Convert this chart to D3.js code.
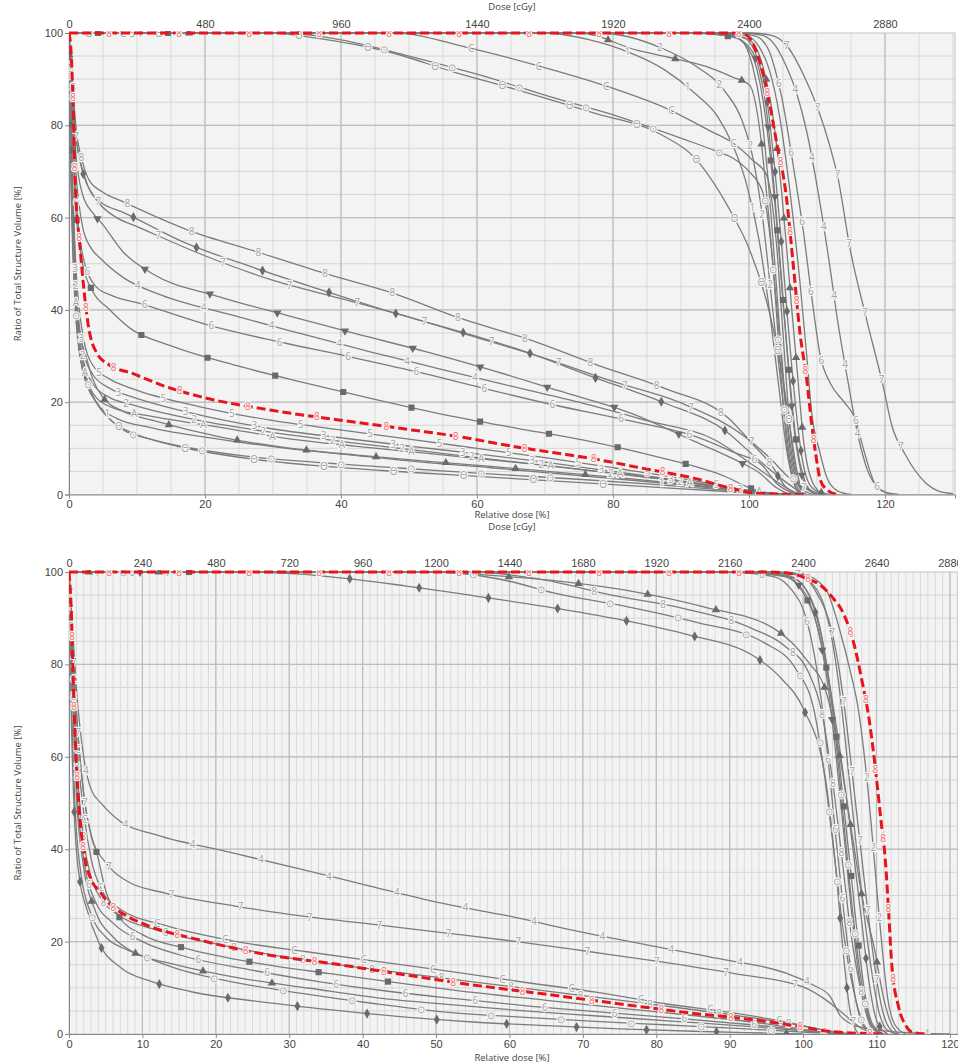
<!DOCTYPE html>
<html>
<head>
<meta charset="utf-8" />
<title>DVH comparison</title>
<style>
body { margin: 0; background: #fff; }
svg { display: block; font-family: "Open Sans", "Noto Sans", sans-serif; }
.axis text { fill: #444; font-size: 11px; }
.axis path, .axis line { stroke: #888; }
.ttl { fill: #444; font-size: 9.5px; }
</style>
</head>
<body>
<script src="https://cdn.jsdelivr.net/npm/d3@7"></script>
<script>
// tick labels
var volTicks = [0, 20, 40, 60, 80, 100];
var topRelTicks = [0, 20, 40, 60, 80, 100, 120];
var topDoseTicks = [0, 480, 960, 1440, 1920, 2400, 2880];
var botRelTicks = [0, 10, 20, 30, 40, 50, 60, 70, 80, 90, 100, 110, 120];
var botDoseTicks = [0, 240, 480, 720, 960, 1200, 1440, 1680, 1920, 2160, 2400, 2640, 2880];
var prescribed = 2400; // cGy at 100 %

//=====================
// top panel curves  [relative dose %, volume %]
//=====================
var tRedHigh = [[0,100],[50,100],[97,100],[99.5,99.6],[101,96.3],[102,91.6],[103,85],[104,76.8],[105.5,64.5],[106.5,50],[107.5,35],[108.5,24.8],[109.2,15.5],[110,7],[110.5,3.1],[111.5,1],[113,0]];
var tRedLow = [[0,100],[0.3,96],[0.6,85],[0.9,68],[1.6,54],[2.8,37],[4.1,30.6],[6,28],[9.2,26.3],[14,23.5],[19.3,21.2],[29.6,18.3],[39.9,16.1],[50.4,14],[57.5,12.5],[65,10.5],[78,7.5],[85,5.5],[92,3.5],[97,1.5],[101,0.3],[108,0]];

var tH1 = [[0,100],[30,100],[36.4,98.9],[46.5,96.1],[56.5,91.6],[66.8,87.3],[76.9,82.8],[87.2,77.9],[92,73],[95,67.1],[97.8,60],[99.9,53.7],[103.1,38.9],[105,25],[106.3,12],[107.2,4],[108,0]];
var tH2 = [[0,100],[32,100],[40,98.5],[50,95],[60.4,90.9],[70.7,86.2],[80.8,81.9],[90.8,76.8],[95,74.5],[97.6,72.9],[100,70],[102,65.6],[103.5,50],[104.5,30],[105.5,12],[106.5,3],[107.5,0]];
var tH3 = [[0,100],[48,100],[58.2,97],[68.5,93.1],[78.6,88.7],[88.4,83.3],[94,79],[97.6,76.2],[100.5,72.5],[102.6,69.2],[104,55],[105,35],[106,15],[107,4],[108,0]];
var tH4 = [[0,100],[70,100],[76.6,98.5],[82,96],[87.6,92],[92,87],[95.4,81.9],[97.5,76.1],[99.5,68],[101.5,55],[103,40],[104.5,22],[105.5,10],[106.5,3],[107.5,0]];
var tH5 = [[0,100],[78,100],[87.2,96.7],[92,93],[96.5,87.3],[99,81],[100.6,72.8],[102,60],[103.5,40],[105,20],[106,8],[107,2],[108,0]];
var tH6 = [[0,100],[75,100],[83.5,96.3],[88,94.8],[93.8,92.7],[97.5,90.5],[100.1,88.7],[101.5,80],[102.8,62],[104,42],[105,25],[106,10],[107,3],[108.5,0]];
var tC1 = [[0,100],[90,100],[97,99.5],[100,97],[101.5,92],[102.5,84],[103.5,70],[104.5,52],[105.5,33],[106.5,16],[107.5,6],[108.5,1.5],[110,0]];
var tC2 = [[0,100],[92,100],[98,99],[100.5,95],[102,86],[103,75],[104,60],[105,42],[106,25],[107,11],[108,4],[109,1],[111,0]];
var tC3 = [[0,100],[94,100],[99,99.2],[101,95.5],[102.5,87],[103.7,72],[104.8,54],[105.8,36],[106.8,20],[107.8,8],[109,2],[111,0]];
var tC4 = [[0,100],[93,100],[98.5,98.8],[100.5,93],[101.7,84],[102.7,70],[103.8,50],[104.8,30],[105.8,14],[106.8,5],[108,1],[109.5,0]];
var tC5 = [[0,100],[95,100],[100,98.5],[102,93],[103.3,84],[104.5,70],[105.5,54],[106.3,40],[107.2,25],[108,12],[109,4],[110.5,0.5],[112,0]];
var tC6 = [[0,100],[98,100],[101,99.3],[103,96],[103.8,92.3],[104.8,86.2],[106.5,71.4],[108,57],[109.3,42],[110.5,30],[112,24],[114,20],[115.6,16.5],[117,9],[118.5,2.4],[120,0.5],[122,0]];
var tC7 = [[0,100],[99,100],[102,99.5],[104,97],[105.3,93.4],[107,87],[108.5,78.6],[110,67],[111.8,50.4],[113,38],[114.5,25],[116,13],[117.5,5],[119,1.5],[121,0]];
var tC8 = [[0,100],[100,100],[103,99.6],[105.5,97.4],[108,91],[110.2,83.3],[111.8,76],[113.1,68.5],[114.9,53],[117.2,38.5],[119.7,23.7],[121,15],[123,8.6],[126,2.5],[128,0.7],[130,0.2]];
var tC9 = [[0,100],[96,100],[99.5,99.5],[101.5,97],[103,92],[104.5,82],[106,66],[107.5,46],[108.5,30],[109.2,18],[110.4,9.3],[111.5,3.5],[113,0.8],[115,0]];

var tL8 = [[0,100],[0.4,92],[1,80],[2,72],[3,68],[5,65.5],[8,63.4],[17.5,57.3],[27.6,52.6],[37.6,47.9],[47.7,43.6],[57.5,38.2],[67.8,33.5],[77.8,28],[87.6,23],[97,16.5],[100.5,11],[103.5,6],[105.5,1.5],[108,0]];
var tLdia = [[0,100],[0.4,90],[1,78],[2,70],[3.5,65],[5,63],[7.7,61.3],[17.3,54.4],[27.1,49.2],[37.2,44.3],[47.2,39.6],[57.5,35.3],[67,31],[77,25.5],[87.1,20.1],[96.7,13.6],[101,8],[104.6,3.6],[108,0]];
var tL7 = [[0,100],[0.4,90],[1,78],[2.5,68],[4.5,63],[7,60],[10.1,58],[19.7,51.9],[29.8,46.5],[39.9,42.5],[49.9,38.5],[60,34],[70,29.5],[80,24.5],[90.1,19.8],[99.4,12.5],[103,8],[106,3.5],[110,0]];
var tLdown = [[0,100],[0.4,88],[1,74],[2,65],[3.5,61],[4.8,58.8],[8,52.5],[12.2,47.9],[22,42.9],[32.3,38.7],[42.3,34.8],[52.6,30.9],[62,27],[72,22.5],[82.7,17.6],[92,11.5],[98,7.5],[101.6,4.6],[104,1.5],[106,0]];
var tL4 = [[0,100],[0.4,85],[1,70],[2,58],[3.2,53.5],[4.6,51.2],[8,47],[13.6,43.2],[23.9,38.9],[34,34.9],[44.3,30.9],[54.3,27.3],[65,23.5],[75,20],[85,16],[95,11.8],[100,7],[103.8,3.1],[107,0]];
var tL6 = [[0,100],[0.4,82],[1,65],[2,52],[4,45],[6.5,43],[10.4,41.4],[20.5,36.7],[30.8,33.1],[41.1,29.9],[51.1,26.6],[61,23],[71,19.5],[82,16.1],[92.3,12.5],[98,9],[101.9,6.4],[104,2.5],[107,0]];
var tLsq = [[0,100],[0.4,80],[1,62],[2,50],[3.5,44],[5.8,40.3],[9,36],[14.6,32.4],[24.7,27.9],[35,24.1],[45.3,20.5],[55.5,17.2],[65.7,14.4],[75.7,11.8],[86.4,8.2],[96.5,3.9],[100,1.5],[103,0]];
var tL5 = [[0,100],[0.4,75],[1,50],[2,35],[3.5,28],[6,25],[9.2,23],[19.3,19],[29.6,16.1],[39.9,14],[50,12],[60,10],[70,8],[80,5.8],[90,3.5],[97,1.6],[102,0.4],[106,0]];
var tL3 = [[0,100],[0.4,72],[1,46],[2,32],[3.5,26],[6,23],[9.2,21.2],[19.3,17.2],[29.6,14.3],[39.9,12.3],[50,10.5],[60,8.8],[70,7],[80,5],[90,3],[98,1.2],[104,0.2],[108,0]];
var tL2 = [[0,100],[0.4,70],[1,44],[2,30],[3.5,24],[6,21],[9.2,19.5],[19.3,16],[29.6,13.5],[39.9,11.5],[50,9.8],[60,8],[70,6.3],[80,4.6],[90,2.8],[98,1],[104,0.2],[108,0]];
var tLA = [[0,100],[0.4,68],[1,42],[2,29],[4,21],[7,18.5],[12,17],[22.5,14.5],[32.7,12],[42,10.5],[52,9],[62,7.5],[72,6],[82,4.3],[92,2.5],[100,0.8],[106,0]];
var tLtri = [[0,100],[0.3,75],[0.8,50],[1.5,36],[2.5,30],[3.5,25],[5,21],[8,18],[12.2,16.1],[22.5,12.4],[32.7,10],[42,8.6],[52,7.3],[62,6.1],[72,4.8],[82,3.5],[92,2],[100,0.6],[105,0]];
var tL1 = [[0,100],[0.4,65],[1,40],[2,27],[4,20],[7,16.5],[12,14.5],[22,12],[32,10],[42,8.5],[52,7],[62,5.8],[72,4.5],[82,3.2],[92,1.8],[100,0.5],[105,0]];
var tLth = [[0,100],[0.3,70],[0.8,45],[1.5,32],[2.5,25],[4,20],[6.3,15.9],[10,13],[16.1,10.4],[26.4,7.8],[36,6.3],[46,5.2],[56,4.3],[66,3.4],[76,2.5],[86,1.6],[96,0.7],[103,0]];
var tLci = [[0,100],[0.3,68],[0.8,44],[1.5,31],[3,23],[5,18],[8,14],[12,12],[16.7,10.4],[26,8.3],[36,7],[46,6],[56,5],[66,4.1],[76,3.2],[86,2.2],[96,1],[103,0]];

//=====================
// bottom panel curves
//=====================
var bRedHigh = [[0,100],[60,100],[95,100],[98.2,99.7],[100.5,98.6],[102.3,97.2],[104,94.5],[105.5,91],[107,84],[108,76.6],[109,68],[109.6,60.8],[110.7,44.9],[111.2,37.7],[111.7,25],[112.1,14.6],[113,5.9],[114,1.8],[115,0.3],[116.6,0]];
var bRedLow = [[0,100],[0.3,92],[0.6,75],[0.9,62],[1.3,50.6],[2.2,37.7],[3,33.5],[4.2,30.8],[5.5,28.2],[7.6,25.8],[11,23.3],[16.9,20.7],[26.5,17.3],[36,15.2],[45.8,12.8],[53.3,11],[64,8.8],[74.6,6.6],[84.4,4.6],[94.1,2.9],[100,1.5],[103.9,0.5],[111.4,0]];

var bHtri = [[0,100],[50,100],[58,99.2],[67.3,97.9],[77.1,95.7],[86.6,92.4],[96,87.8],[100.5,80.9],[103.2,73.7],[105,60],[106.5,45],[108,30],[109.8,17.8],[110.8,9],[111.8,3],[113,0]];
var bH8 = [[0,100],[55,100],[64,98.5],[73.9,95],[83.5,92.2],[93,87.8],[97.5,84],[100.7,78.4],[102.5,70],[104,55],[105.3,38],[106.5,22],[107.8,10],[109,3],[110.5,0]];
var bHci = [[0,100],[50,100],[60,98],[66,95.5],[76,92.5],[85.5,89.1],[94.8,84.6],[99,79],[101.5,70],[103,55],[104.3,38],[105.5,22],[106.8,10],[108,3],[109.5,0]];
var bHdia = [[0,100],[25,100],[31,99.6],[45.8,97],[55.4,94.8],[65,92.5],[74.8,89.8],[84.4,86.4],[93.6,81.5],[97,77],[100,70.5],[103,55.7],[104.5,35],[105.5,17],[106.3,6],[107.5,0]];
var bC1 = [[0,100],[88,100],[97,99.3],[99.5,97],[101,93],[102.5,84],[103.5,74],[104.5,60],[105.5,44],[106.5,28],[107.5,14],[108.5,5],[109.5,1],[111,0]];
var bC2 = [[0,100],[90,100],[97.5,99],[100,95.5],[101.8,89],[103.2,79],[104.5,65],[105.5,50],[106.5,35],[107.5,20],[108.5,8],[109.5,2],[111,0]];
var bC3 = [[0,100],[92,100],[98.5,98.8],[100.8,95],[102.5,86],[104,72],[105.5,56],[106.8,40],[108,24],[109,11],[110,3],[111.5,0]];
var bC4 = [[0,100],[95,100],[99.5,99.3],[102,95],[103.7,88.5],[105,78],[106,66],[107,52],[108,38],[109,24],[110,12],[111,4],[112.5,0]];
var bC5 = [[0,100],[96,100],[100,99.5],[103,96.5],[105.3,85.6],[106.5,78],[107.5,70.5],[108.5,58],[109.3,45],[110,32],[110.8,18],[111.5,8],[112.5,2],[114,0]];
var bC6 = [[0,100],[90,100],[96,99],[98.5,96],[100,92],[101.3,84],[102.5,72],[103.5,58],[104.5,42],[105.5,27],[106.5,14],[107.5,5],[109,0]];
var bC7 = [[0,100],[94,100],[99,99.5],[101.5,97],[103,92],[104.3,82],[105.3,70],[106.3,55],[107.3,40],[108.3,26],[109.3,14],[110.3,5],[111.5,0.8],[113,0]];
var bC8 = [[0,100],[93,100],[98,99.2],[100.5,96],[102,90],[103.2,80],[104.3,66],[105.3,50],[106.2,35],[107.2,20],[108.2,9],[109.2,2.5],[110.5,0]];

var bL4 = [[0,100],[0.4,90],[1,75],[2,60],[3,53],[4.4,49.9],[7,46],[11.9,43.1],[21.5,39.5],[31,35.9],[40.3,32.3],[49.9,28.6],[60,25.5],[70,22],[78.7,19.3],[88.2,16.4],[97.8,13.1],[101.5,10.5],[103.7,8.1],[105,4.1],[106.5,2.2],[108.7,1.2],[113,0.4],[120,0]];
var bL7 = [[0,100],[0.4,88],[1,70],[2,52],[3.2,42],[4.9,37.3],[8,33],[13.1,30.5],[22.6,27.7],[32.4,25.4],[42.1,23.6],[51.7,21.8],[61,20],[71,17.8],[80.7,15.6],[90.5,13.1],[100,10.2],[103,7.5],[106,3.7],[108,1.2],[110,0]];
var bLC = [[0,100],[0.4,85],[1,65],[2,48],[3,38],[4.5,31],[7,27],[12.9,23.6],[22.8,20],[32.4,17.8],[42.4,15.6],[52.1,13.5],[62,11.2],[72,9],[81,6.6],[90.7,4.5],[98,2.5],[103,0.8],[106,0]];
var bL8 = [[0,100],[0.4,82],[1,60],[2,42],[3,34],[4.5,29],[7,25.5],[12,22.5],[20,19.5],[30,16.5],[40,14.3],[50,12.3],[60,10.3],[70,8.3],[80,6.3],[90,4.2],[98,2.3],[103,0.8],[107,0]];
var bLsq = [[0,100],[0.4,88],[1,70],[2,52],[3,43],[3.8,39.1],[5,31],[7,25],[10,21.5],[16,18.5],[25.8,15.3],[35.3,13.1],[45.1,11],[55,9],[65,7.3],[75,5.6],[85,4],[95,2.2],[100,1],[104,0]];
var bL6 = [[0,100],[0.4,80],[1,55],[2,38],[3.5,29],[6,24],[10,20],[15.1,17.1],[24.7,13.9],[34.2,11.3],[43.7,9.2],[53,7.6],[63,6],[73,4.7],[83,3.4],[93,2],[100,0.9],[105,0]];
var bLtri = [[0,100],[0.4,78],[1,52],[2,36],[3.5,27],[6,21],[9,17.5],[13.8,15.3],[23.3,12.1],[32.8,9.9],[42.6,7.7],[52.4,6.3],[62,5],[72,3.9],[82,2.8],[92,1.7],[100,0.7],[105,0]];
var bLci = [[0,100],[0.3,75],[0.8,50],[1.6,35],[3,26],[5,21],[7.5,18.5],[9.7,17.1],[15,14],[22.2,11.3],[31.7,8.8],[41.5,6.6],[51,4.8],[61,3.7],[71,2.8],[81,2],[91,1.2],[100,0.4],[105,0]];
var bLdia = [[0,100],[0.3,70],[0.8,45],[1.5,33],[2.4,27.2],[4,20],[7.2,14.2],[11,11.5],[16.5,9.2],[26,7],[35.8,5.2],[45.5,3.7],[55,2.6],[65,1.8],[75,1.1],[85,0.6],[95,0.2],[100,0]];

// curve lists with the marker each one carries
var topCurves = [
  {d: tH1, m: "Θ"}, {d: tH2, m: "⊙"}, {d: tH3, m: "C"}, {d: tH4, m: "1"}, {d: tH5, m: "2"}, {d: tH6, m: "tri"},
  {d: tC1, m: "down"}, {d: tC2, m: "sq"}, {d: tC3, m: "dia"}, {d: tC4, m: "5"}, {d: tC5, m: "tri"},
  {d: tC6, m: "6"}, {d: tC7, m: "4"}, {d: tC8, m: "7"}, {d: tC9, m: "B"},
  {d: tL8, m: "8"}, {d: tLdia, m: "dia"}, {d: tL7, m: "7"}, {d: tLdown, m: "down"}, {d: tL4, m: "4"},
  {d: tL6, m: "6"}, {d: tLsq, m: "sq"}, {d: tL5, m: "5"}, {d: tL3, m: "3"}, {d: tL2, m: "2"},
  {d: tLA, m: "A"}, {d: tLtri, m: "tri"}, {d: tL1, m: "1"}, {d: tLth, m: "Θ"}, {d: tLci, m: "⊙"}
];
var topRed = [tRedHigh, tRedLow];

var botCurves = [
  {d: bHtri, m: "tri"}, {d: bH8, m: "8"}, {d: bHci, m: "⊙"}, {d: bHdia, m: "dia"},
  {d: bC1, m: "down"}, {d: bC2, m: "sq"}, {d: bC3, m: "dia"}, {d: bC4, m: "7"}, {d: bC5, m: "2"},
  {d: bC6, m: "6"}, {d: bC7, m: "5"}, {d: bC8, m: "⊙"},
  {d: bL4, m: "4"}, {d: bL7, m: "7"}, {d: bLC, m: "C"}, {d: bL8, m: "8"}, {d: bLsq, m: "sq"},
  {d: bL6, m: "6"}, {d: bLtri, m: "tri"}, {d: bLci, m: "⊙"}, {d: bLdia, m: "dia"}
];
var botRed = [bRedHigh, bRedLow];

var width = 958, height = 1063;

var svg = d3.select("body").append("svg")
  .attr("width", width)
  .attr("height", height);

var shapes = {tri: d3.symbolTriangle, sq: d3.symbolSquare, dia: d3.symbolDiamond, down: d3.symbolTriangle};

drawPanel({
  id: "p1", top: 33, bottom: 494.5, left: 69, right: 955, xMax: 130.3,
  minorX: 5, majorX: 20, relTicks: topRelTicks, doseTicks: topDoseTicks,
  doseTitleY: 10, relTitleY: 518, curves: topCurves, red: topRed
});
drawPanel({
  id: "p2", top: 572, bottom: 1034, left: 69, right: 958, xMax: 121.1,
  minorX: 1, majorX: 10, relTicks: botRelTicks, doseTicks: botDoseTicks,
  doseTitleY: 530, relTitleY: 1061, curves: botCurves, red: botRed
});

function drawPanel(p) {
  var x = d3.scaleLinear().domain([0, p.xMax]).range([p.left, p.right]);
  var xDose = d3.scaleLinear().domain([0, p.xMax * prescribed / 100]).range([p.left, p.right]);
  var y = d3.scaleLinear().domain([0, 100]).range([p.bottom, p.top]);

  var g = svg.append("g");

  g.append("clipPath").attr("id", "clip" + p.id)
    .append("rect")
    .attr("x", p.left).attr("y", p.top - 2)
    .attr("width", p.right - p.left).attr("height", p.bottom - p.top + 2);

  g.append("rect")
    .attr("x", p.left).attr("y", p.top)
    .attr("width", p.right - p.left).attr("height", p.bottom - p.top)
    .style("fill", "#f3f3f3");

  // minor grid
  var grid = g.append("g");
  grid.selectAll(".vmin").data(d3.range(p.minorX, p.xMax, p.minorX)).enter()
    .append("line")
    .attr("x1", x).attr("x2", x).attr("y1", p.top).attr("y2", p.bottom)
    .style("stroke", "#dadada").style("stroke-width", 1);
  grid.selectAll(".hmin").data(d3.range(5, 100, 5)).enter()
    .append("line")
    .attr("y1", y).attr("y2", y).attr("x1", p.left).attr("x2", p.right)
    .style("stroke", "#d6d6d6").style("stroke-width", 1);
  // major grid
  grid.selectAll(".vmaj").data(d3.range(p.majorX, p.xMax, p.majorX)).enter()
    .append("line")
    .attr("x1", x).attr("x2", x).attr("y1", p.top).attr("y2", p.bottom)
    .style("stroke", "#bdbdbd").style("stroke-width", 1.2);
  grid.selectAll(".hmaj").data(volTicks.slice(1, -1)).enter()
    .append("line")
    .attr("y1", y).attr("y2", y).attr("x1", p.left).attr("x2", p.right)
    .style("stroke", "#bdbdbd").style("stroke-width", 1.2);

  g.append("rect")
    .attr("x", p.left).attr("y", p.top)
    .attr("width", p.right - p.left).attr("height", p.bottom - p.top)
    .style("fill", "none").style("stroke", "#c4c4c4");

  // axes
  g.append("g").attr("class", "axis")
    .attr("transform", "translate(" + p.left + ",0)")
    .call(d3.axisLeft(y).tickValues(volTicks).tickSize(4).tickPadding(2));
  g.append("g").attr("class", "axis")
    .attr("transform", "translate(0," + p.bottom + ")")
    .call(d3.axisBottom(x).tickValues(p.relTicks).tickSize(4).tickPadding(2));
  var top = g.append("g").attr("class", "axis")
    .attr("transform", "translate(0," + p.top + ")")
    .call(d3.axisTop(xDose).tickValues(p.doseTicks).tickFormat(d3.format("d")).tickSize(0).tickPadding(5));
  top.select(".domain").remove();

  var cx = (p.left + p.right) / 2 - (p.right - 955) / 2;
  g.append("text").attr("class", "ttl")
    .attr("x", cx).attr("y", p.doseTitleY)
    .attr("text-anchor", "middle").text("Dose [cGy]");
  g.append("text").attr("class", "ttl")
    .attr("x", cx).attr("y", p.relTitleY)
    .attr("text-anchor", "middle").text("Relative dose [%]");
  g.append("text").attr("class", "ttl")
    .attr("transform", "translate(21," + ((p.top + p.bottom) / 2) + ") rotate(-90)")
    .attr("text-anchor", "middle")
    .text("Ratio of Total Structure Volume [%]");

  var line = d3.line()
    .x(function(d) { return x(d[0]); })
    .y(function(d) { return y(d[1]); })
    .curve(d3.curveMonotoneX);

  var plot = g.append("g").attr("clip-path", "url(#clip" + p.id + ")");
  var lines = plot.append("g");
  var marks = plot.append("g");
  var reds = plot.append("g");
  var placed = [];

  // red curves first so grey markers keep clear of the red ones
  p.red.forEach(function(r, i) {
    var path = reds.append("path")
      .attr("d", line(r))
      .style("fill", "none")
      .style("stroke", "#e8141c")
      .style("stroke-width", 3)
      .style("stroke-dasharray", "9,4");
    addMarks(reds, path.node(), "8", 40 + i * 25, "#f06a6a", placed, p.top, true);
  });

  p.curves.forEach(function(c, i) {
    var path = lines.append("path")
      .attr("d", line(c.d))
      .style("fill", "none")
      .style("stroke", "#7c7c7c")
      .style("stroke-width", 1.3);
    addMarks(marks, path.node(), c.m, 20 + (i * 17) % 55, "#a2a2a2", placed, p.top, false);
  });
}

// markers every ~70px along a drawn curve; crowded spots are skipped
function addMarks(sel, node, m, phase, textCol, placed, top, keepTop) {
  var len = node.getTotalLength(), pts = [];
  for (var s = phase; s < len - 8; s += 70) {
    var pt = node.getPointAtLength(s);
    if (!keepTop && pt.y < top + 2 && s > 120) continue;
    var near = placed.some(function(q) { return Math.abs(q.x - pt.x) < 8 && Math.abs(q.y - pt.y) < 9; });
    if (near) continue;
    placed.push(pt);
    pts.push(pt);
  }

  if (shapes[m]) {
    sel.selectAll(null).data(pts).enter()
      .append("path")
      .attr("d", d3.symbol().type(shapes[m]).size(m == "sq" ? 38 : 30))
      .attr("transform", function(d) {
        return "translate(" + d.x + "," + d.y + ")" + (m == "down" ? " rotate(180)" : "");
      })
      .style("fill", "#6a6a6a");
  } else {
    sel.selectAll(null).data(pts).enter()
      .append("text")
      .attr("x", function(d) { return d.x; })
      .attr("y", function(d) { return d.y + 3.5; })
      .attr("text-anchor", "middle")
      .style("font-size", "10px")
      .style("fill", textCol)
      .style("stroke", "#f6f6f6")
      .style("stroke-width", 2.5)
      .style("paint-order", "stroke")
      .text(m);
  }
}
</script>
</body>
</html>
